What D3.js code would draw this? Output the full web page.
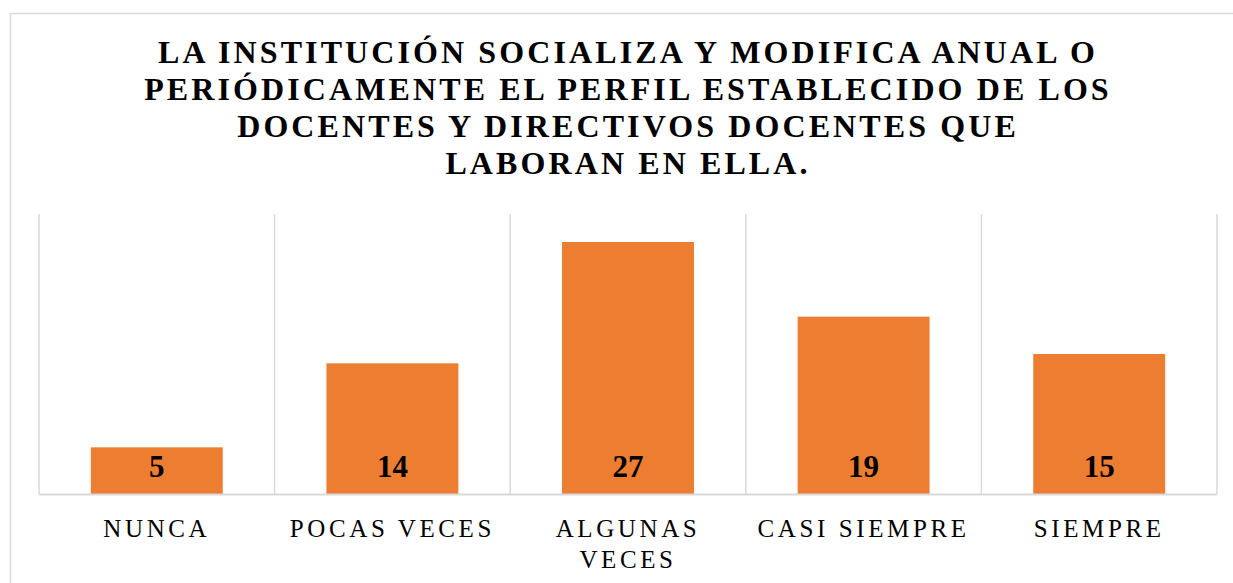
<!DOCTYPE html>
<html>
<head>
<meta charset="utf-8">
<script src="https://cdn.jsdelivr.net/npm/d3@7.9.0/dist/d3.min.js"></script>
<style>
  body { margin: 0; background: #fff; }
  svg { display: block; }
</style>
</head>
<body>
<svg id="chart" width="1233" height="583"></svg>
<script>
// data
const categories = ['NUNCA', 'POCAS VECES', 'ALGUNAS VECES', 'CASI SIEMPRE', 'SIEMPRE'];
const values = [5, 14, 27, 19, 15];
const titleLines = [
  'LA INSTITUCIÓN SOCIALIZA Y MODIFICA ANUAL O',
  'PERIÓDICAMENTE EL PERFIL ESTABLECIDO DE LOS',
  'DOCENTES Y DIRECTIVOS DOCENTES QUE',
  'LABORAN EN ELLA.'
];
const yDomain = [0, 30];

const svg = d3.select('#chart');
const serif = '"Liberation Serif", "Times New Roman", serif';

// chart border (runs off the right and bottom of the picture)
svg.append('rect')
  .attr('x', 10.5).attr('y', 13.5)
  .attr('width', 1240).attr('height', 600)
  .attr('fill', 'none')
  .attr('stroke', '#d9d9d9')
  .attr('stroke-width', 1.5);

const plot = { left: 39, right: 1217, top: 214, bottom: 494 };

let x = d3.scaleBand()
  .domain(categories)
  .range([plot.left, plot.right])
  .paddingInner(0.44)
  .paddingOuter(0.22);

let y = d3.scaleLinear()
  .domain(yDomain)
  .range([plot.bottom, plot.top]);

// title
svg.append('text')
  .attr('x', 628)
  .attr('y', 63)
  .attr('text-anchor', 'middle')
  .attr('font-family', serif)
  .attr('font-weight', 'bold')
  .attr('font-size', 32)
  .attr('letter-spacing', 3.1)
  .attr('fill', '#000')
  .selectAll('tspan')
  .data(titleLines)
  .join('tspan')
  .attr('x', 628)
  .attr('dy', (d, i) => i === 0 ? 0 : 37)
  .text(d => d);

// vertical gridlines at category boundaries
let step = x.step();
let bounds = d3.range(categories.length + 1).map(i => plot.left + i * step);
svg.append('g')
  .selectAll('line')
  .data(bounds)
  .join('line')
  .attr('x1', d => d).attr('x2', d => d)
  .attr('y1', plot.top).attr('y2', plot.bottom)
  .attr('stroke', '#d9d9d9')
  .attr('stroke-width', 1.5);

// bars
svg.append('g')
  .selectAll('rect')
  .data(values)
  .join('rect')
  .attr('x', (d, i) => x(categories[i]))
  .attr('y', d => y(d))
  .attr('width', x.bandwidth())
  .attr('height', d => y(0) - y(d))
  .attr('fill', '#ed7d31');

// value labels inside the base of each bar
svg.append('g')
  .selectAll('text')
  .data(values)
  .join('text')
  .attr('x', (d, i) => x(categories[i]) + x.bandwidth() / 2)
  .attr('y', y(0) - 17)
  .attr('text-anchor', 'middle')
  .attr('font-family', serif)
  .attr('font-weight', 'bold')
  .attr('font-size', 31)
  .attr('fill', '#000')
  .text(d => d);

// x axis
let xAxis = svg.append('g')
  .attr('transform', `translate(0,${plot.bottom})`)
  .call(d3.axisBottom(x).tickSize(0).tickPadding(0));

xAxis.select('.domain')
  .attr('d', `M${plot.left},0.5H${plot.right}`)
  .attr('stroke', '#d9d9d9')
  .attr('stroke-width', 2);

xAxis.selectAll('.tick text')
  .attr('font-family', serif)
  .attr('font-size', 25)
  .attr('letter-spacing', 3.6)
  .attr('fill', '#000')
  .attr('dy', null)
  .attr('y', 43)
  .each(function (d) {
    // wrap labels wider than one category slot
    let t = d3.select(this);
    let words = d.split(' ');
    t.text(null);
    let line = [];
    let tspan = t.append('tspan').attr('x', 0).attr('y', 43);
    let lineNo = 0;
    for (let w of words) {
      line.push(w);
      tspan.text(line.join(' '));
      if (tspan.node().getComputedTextLength() > step - 10 && line.length > 1) {
        line.pop();
        tspan.text(line.join(' '));
        line = [w];
        lineNo++;
        tspan = t.append('tspan').attr('x', 0).attr('y', 43 + lineNo * 31).text(w);
      }
    }
  });
</script>
</body>
</html>
